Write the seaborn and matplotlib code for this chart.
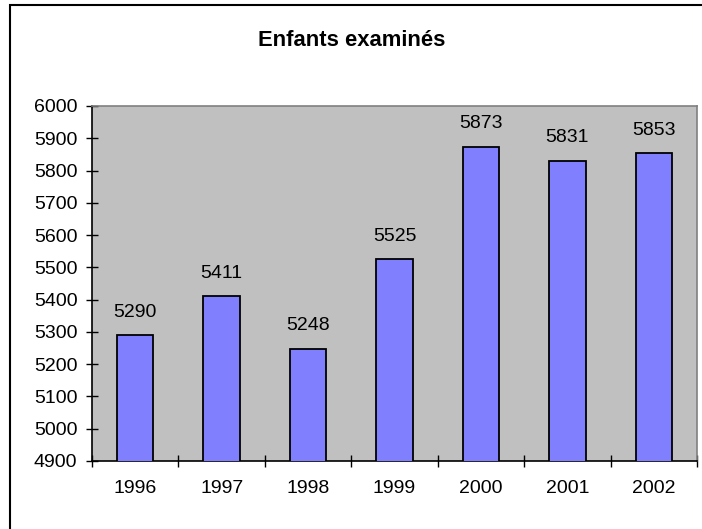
import matplotlib
matplotlib.use("Agg")
import matplotlib.pyplot as plt
from matplotlib.patches import Rectangle
import seaborn as sns
import pandas as pd

years = ["1996", "1997", "1998", "1999", "2000", "2001", "2002"]
counts = [5290, 5411, 5248, 5525, 5873, 5831, 5853]
y_ticks = [4900, 5000, 5100, 5200, 5300, 5400, 5500, 5600, 5700, 5800, 5900, 6000]

sns.set_theme(style="white")
plt.rcParams["font.family"] = ["Liberation Sans", "DejaVu Sans"]

df = pd.DataFrame({"year": years, "count": counts})

W, H = 702, 529
fig = plt.figure(figsize=(W / 100, H / 100), dpi=100)
fig.patch.set_facecolor("white")

# outer chart frame (open at right and bottom edges)
fig.patches.append(Rectangle((9.5 / W, -0.05), 1.0, (H - 5) / H + 0.05,
                             transform=fig.transFigure, fill=False,
                             edgecolor="black", linewidth=1.5, zorder=0))

ax = fig.add_axes([92 / W, 1 - 461 / H, 605 / W, 355 / H])
ax.set_facecolor("#C0C0C0")

sns.barplot(data=df, x="year", y="count", ax=ax, color="#8080FF",
            edgecolor="black", linewidth=1.3, width=0.42, saturation=1,
            zorder=3)

ax.set_ylim(4900, 6000)
ax.set_xlim(-0.5, len(years) - 0.5)
ax.set_yticks(y_ticks)
ax.set_yticklabels([str(v) for v in y_ticks])
ax.set_xlabel("")
ax.set_ylabel("")

# category labels centred, tick marks on category boundaries
ax.set_xticks(range(len(years)))
ax.set_xticklabels(years)
ax.set_xticks([i - 0.5 for i in range(len(years) + 1)], minor=True)
ax.tick_params(axis="x", which="major", length=0, pad=14, labelsize=14,
               colors="black")
ax.tick_params(axis="x", which="minor", direction="inout", length=9,
               width=1, color="black", bottom=True)
ax.tick_params(axis="y", which="major", direction="inout", length=9,
               width=1, color="black", left=True, pad=6, labelsize=14,
               labelcolor="black")

for side in ["left", "bottom"]:
    ax.spines[side].set_color("black")
    ax.spines[side].set_linewidth(1.2)
for side in ["top", "right"]:
    ax.spines[side].set_color("#808080")
    ax.spines[side].set_linewidth(1.2)

for i, v in enumerate(counts):
    ax.annotate(str(v), (i, v), xytext=(0, 10.5), textcoords="offset points",
                ha="center", va="bottom", fontsize=14, color="black")

fig.text(352 / W, 1 - 41 / H, "Enfants examinés", ha="center", va="center",
         fontsize=15.8, fontweight="bold", color="black")

fig.savefig("out.png", dpi=100)
